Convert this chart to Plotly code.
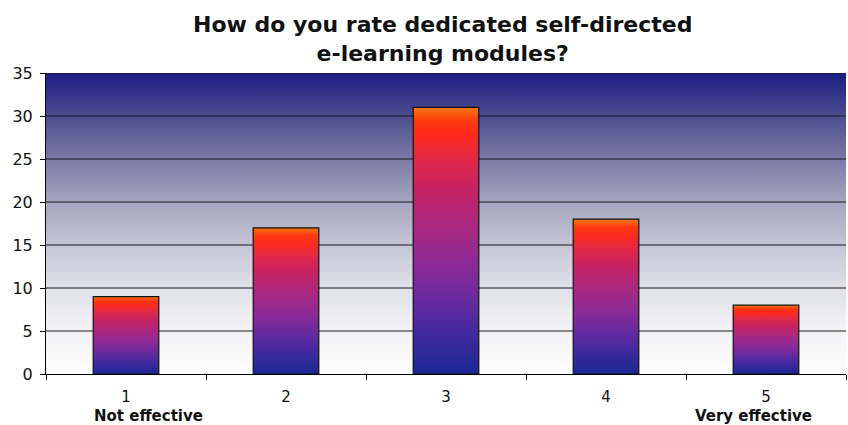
import plotly.graph_objects as go

# ---- data ----
categories = [1, 2, 3, 4, 5]
values = [9, 17, 31, 18, 8]
tick_labels = ["1", "2", "3", "4", "5"]
end_labels = ["Not effective", "Very effective"]
y_ticks = [0, 5, 10, 15, 20, 25, 30, 35]
title_text = "How do you rate dedicated self-directed<br>e-learning modules?"

# ---- styles ----
FONT = "DejaVu Sans, Liberation Sans, Arial, sans-serif"
bar_width = 0.41
x_lo, x_hi = categories[0] - 0.5, categories[-1] + 0.5
y_lo, y_hi = y_ticks[0], y_ticks[-1]

bg_scale = [
    [0.0, "#fdfdfd"], [0.15, "#f3f3f6"], [0.3, "#dedee8"], [0.45, "#c0c0d2"],
    [0.57, "#a5a5c0"], [0.71, "#7c7ca6"], [0.86, "#4c4c90"], [1.0, "#1c1c82"],
]
bar_scale = [
    [0.0, "#1a2896"], [0.12, "#38299a"], [0.25, "#5e2aa0"], [0.4, "#8a2a98"],
    [0.55, "#a82880"], [0.7, "#c82262"], [0.8, "#e0284a"], [0.9, "#ff2a1a"],
    [0.95, "#ff3a10"], [1.0, "#f07a10"],
]

fig = go.Figure()

# plot-area gradient background
fig.add_trace(go.Scatter(
    x=[x_lo, x_hi, x_hi, x_lo, x_lo], y=[y_lo, y_lo, y_hi, y_hi, y_lo],
    mode="lines", fill="toself", line=dict(width=0, color="rgba(0,0,0,0)"),
    fillgradient=dict(type="vertical", colorscale=bg_scale),
    hoverinfo="skip", showlegend=False,
))

# gridlines over the background
gx, gy = [], []
for t in y_ticks[1:]:
    gx += [x_lo, x_hi, None]
    gy += [t, t, None]
fig.add_trace(go.Scatter(x=gx, y=gy, mode="lines",
                         line=dict(color="#1a1a1a", width=1),
                         hoverinfo="skip", showlegend=False))

# gradient bars
for c, v in zip(categories, values):
    x0, x1 = c - bar_width / 2, c + bar_width / 2
    fig.add_trace(go.Scatter(
        x=[x0, x1, x1, x0, x0], y=[0, 0, v, v, 0],
        mode="lines", fill="toself", line=dict(color="#111111", width=1.2),
        fillgradient=dict(type="vertical", colorscale=bar_scale),
        hoverinfo="skip", showlegend=False,
    ))

fig.add_annotation(
    text=title_text, xref="paper", yref="paper", x=0.5, y=1,
    xanchor="center", yanchor="bottom", yshift=5, xshift=-4, showarrow=False,
    font=dict(family=FONT, size=22, color="#111111", weight="bold"),
)

# end-point descriptors under categories 1 and 5
for cat, lab, shift in [(categories[0], end_labels[0], 22), (categories[-1], end_labels[1], -13)]:
    fig.add_annotation(
        text=lab, xref="x", yref="paper", x=cat, y=0, xanchor="center",
        yanchor="top", yshift=-31, xshift=shift, showarrow=False,
        font=dict(family=FONT, size=15, color="#111111", weight="bold"),
    )

fig.update_layout(
    width=848, height=425,
    margin=dict(l=46, r=2, t=73, b=51),
    paper_bgcolor="white", plot_bgcolor="white",
    font=dict(family=FONT, size=15, color="#111111"),
    showlegend=False,
)
fig.update_xaxes(
    range=[x_lo, x_hi], tickmode="array", tickvals=categories, ticktext=tick_labels,
    ticks="", showgrid=False, zeroline=False, showline=True, linecolor="black",
    linewidth=1, ticklabelstandoff=9,
    minor=dict(tickmode="array", tickvals=[c - 0.5 for c in categories] + [x_hi],
               ticks="outside", ticklen=5, tickcolor="black", showgrid=False),
    tickfont=dict(size=15),
)
fig.update_yaxes(
    range=[y_lo, y_hi], tickmode="array", tickvals=y_ticks, ticks="outside",
    ticklen=5, tickcolor="black", showgrid=False, zeroline=False, showline=True,
    linecolor="black", linewidth=1, tickfont=dict(size=16), ticklabelstandoff=4,
)

fig.write_html("out.html", config={"displayModeBar": False},
               post_script="document.body.style.margin='0';")
